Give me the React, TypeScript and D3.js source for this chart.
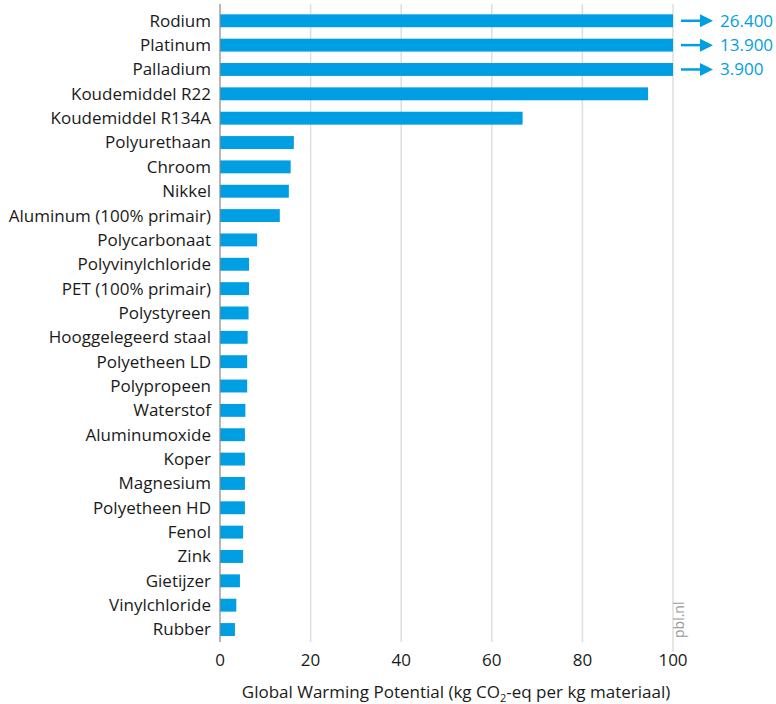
import React from "react";
import * as d3 from "d3";

const categories = [
  "Rodium", "Platinum", "Palladium", "Koudemiddel R22", "Koudemiddel R134A",
  "Polyurethaan", "Chroom", "Nikkel", "Aluminum (100% primair)", "Polycarbonaat",
  "Polyvinylchloride", "PET (100% primair)", "Polystyreen", "Hooggelegeerd staal",
  "Polyetheen LD", "Polypropeen", "Waterstof", "Aluminumoxide", "Koper", "Magnesium",
  "Polyetheen HD", "Fenol", "Zink", "Gietijzer", "Vinylchloride", "Rubber",
];
const values = [
  26400, 13900, 3900, 94.5, 66.8,
  16.3, 15.6, 15.2, 13.2, 8.2,
  6.4, 6.4, 6.3, 6.1,
  6.0, 6.0, 5.6, 5.5, 5.5, 5.5,
  5.5, 5.1, 5.1, 4.4, 3.6, 3.3,
];
const overflowLabels = ["26.400", "13.900", "3.900"];
const xTicks = [0, 20, 40, 60, 80, 100];

const W = 776, H = 704;
const BLUE = "#009ee2";
const FONT = "'Open Sans', Lato, sans-serif";
const FS = 17;

export default function App() {
  const x = d3.scaleLinear().domain([0, 100]).range([220, 673]);
  const y = d3.scaleBand<string>().domain(categories).range([8.6, 641.7]).paddingInner(0.47).paddingOuter(0.235);
  const bh = y.bandwidth();
  return (
    <svg width={W} height={H} style={{ position: "absolute", left: 0, top: 0 }} fontFamily={FONT}>
      {xTicks.filter((t) => t > 0).map((t) => (
        <line key={t} x1={x(t)} x2={x(t)} y1={4} y2={t === 100 ? 652 : 642} stroke="#dedede" strokeWidth={1.5} />
      ))}
      {categories.map((c, i) => (
        <rect key={c} x={x(0)} y={y(c)!} width={x(Math.min(values[i], 100)) - x(0)} height={bh} fill={BLUE} />
      ))}
      <line x1={x(0)} x2={x(0)} y1={4} y2={642} stroke="#888" strokeWidth={1.2} />
      {categories.map((c) => (
        <text key={c} x={211} y={y(c)! + bh / 2} dy="0.35em" textAnchor="end" fontSize={FS} fill="#1a1a1a">{c}</text>
      ))}
      {overflowLabels.map((l, i) => {
        const cy = y(categories[i])! + bh / 2;
        return (
          <g key={l}>
            <line x1={681} x2={702} y1={cy} y2={cy} stroke={BLUE} strokeWidth={2.5} />
            <path d={`M700,${cy - 6.5} L713,${cy} L700,${cy + 6.5} Z`} fill={BLUE} />
            <text x={720} y={cy} dy="0.35em" fontSize={FS} fill={BLUE}>{l}</text>
          </g>
        );
      })}
      {xTicks.map((t) => (
        <text key={t} x={x(t)} y={666} textAnchor="middle" fontSize={FS} fill="#1a1a1a">{t}</text>
      ))}
      <text x={456} y={698} textAnchor="middle" fontSize={FS} fill="#1a1a1a">
        Global Warming Potential (kg CO<tspan fontSize={11} dy={4}>2</tspan><tspan dy={-4}>-eq per kg materiaal)</tspan>
      </text>
      <text transform={`translate(684,638) rotate(-90)`} fontSize={14} fill="#999">pbl.nl</text>
    </svg>
  );
}
